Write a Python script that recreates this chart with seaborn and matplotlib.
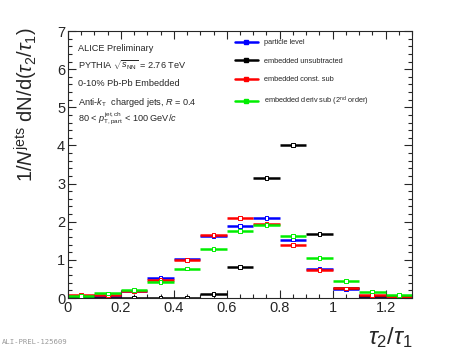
import numpy as np
import pandas as pd
import matplotlib
matplotlib.use("Agg")
import matplotlib.pyplot as plt
from matplotlib.lines import Line2D
from matplotlib.ticker import MultipleLocator
import seaborn as sns

# DATA

bin_centers = [0.05, 0.15, 0.25, 0.35, 0.45, 0.55, 0.65, 0.75, 0.85, 0.95, 1.05, 1.15, 1.25]
bin_half_width = 0.05

particle_level = [0.03, 0.05, 0.18, 0.53, 1.01, 1.62, 1.89, 2.09, 1.53, 0.76, 0.24, 0.06, 0.03]
embedded_unsub = [0.01, 0.0, 0.0, 0.0, 0.0, 0.10, 0.82, 3.15, 4.02, 1.68, 0.25, 0.05, 0.02]
embedded_const = [0.08, 0.08, 0.18, 0.48, 1.00, 1.66, 2.10, 1.95, 1.39, 0.74, 0.25, 0.08, 0.02]
embedded_deriv = [0.06, 0.12, 0.21, 0.42, 0.77, 1.28, 1.75, 1.92, 1.62, 1.05, 0.45, 0.17, 0.08]

series_names = [
    "particle level",
    "embedded unsubtracted",
    "embedded const. sub",
    "embedded deriv sub (2$^{\\rm nd}$ order)",
]
series_values = [particle_level, embedded_unsub, embedded_const, embedded_deriv]
series_colors = ["#0000ff", "#000000", "#ff0000", "#00ee00"]

info_lines = [
    "ALICE Preliminary",
    "PYTHIA $\\sqrt{s_{\\rm NN}}$ = 2.76 TeV",
    "0-10% Pb-Pb Embedded",
    "Anti-$k_{\\rm T}$  charged jets, $R$ = 0.4",
    "80 < $p_{\\rm T,part}^{\\rm jet,ch}$ < 100 GeV/$c$",
]


# STYLE

sns.set_style("ticks")
plt.rcParams["font.family"] = ["Liberation Sans", "DejaVu Sans"]
plt.rcParams["mathtext.fontset"] = "custom"
plt.rcParams["mathtext.rm"] = "Liberation Sans"
plt.rcParams["mathtext.it"] = "Liberation Sans:italic"
plt.rcParams["mathtext.bf"] = "Liberation Sans:bold"


# PLOT

fig = plt.figure(figsize=(4.57, 3.51), dpi=100)
ax = fig.add_axes([68 / 457, 1 - 298 / 351, 344 / 457, 267 / 351])

rows = []
for name, vals, col in zip(series_names, series_values, series_colors):
    ax.errorbar(
        bin_centers,
        vals,
        xerr=bin_half_width,
        fmt="none",
        ecolor=col,
        elinewidth=1.8,
        capsize=0,
    )
    for x, y in zip(bin_centers, vals):
        rows.append({"x": x, "y": y, "series": name})

df = pd.DataFrame(rows)

sns.scatterplot(
    data=df,
    x="x",
    y="y",
    hue="series",
    palette=dict(zip(series_names, series_colors)),
    marker="s",
    s=7,
    linewidth=0.7,
    legend=False,
    ax=ax,
    zorder=5,
)
# open squares: edge coloured, face white
for coll in ax.collections:
    fc = coll.get_facecolors()
    if len(fc):
        coll.set_edgecolors(fc)
        coll.set_facecolors("white")

ax.set_xlim(0, 1.3)
ax.set_ylim(0, 7)

ax.xaxis.set_major_locator(MultipleLocator(0.2))
ax.xaxis.set_minor_locator(MultipleLocator(0.05))
ax.yaxis.set_major_locator(MultipleLocator(1))
ax.yaxis.set_minor_locator(MultipleLocator(0.2))
ax.set_xticks([0, 0.2, 0.4, 0.6, 0.8, 1.0, 1.2])
ax.set_xticklabels(["0", "0.2", "0.4", "0.6", "0.8", "1", "1.2"])

ax.tick_params(which="both", direction="in", top=True, right=True, width=0.8, labelsize=10.5, pad=2)
ax.tick_params(which="major", length=6)
ax.tick_params(which="minor", length=3)
for sp in ax.spines.values():
    sp.set_visible(True)
    sp.set_linewidth(0.8)

ax.set_xlabel("")
ax.set_ylabel(r"1/$N^{\rm jets}$ dN/d($\tau_{2}/\tau_{1}$)", fontsize=14.5)
ax.yaxis.set_label_coords(-0.08, 0.725)
ax.text(1.0, -0.10, r"$\tau_{2}/\tau_{1}$", transform=ax.transAxes,
        ha="right", va="top", fontsize=17)

# info text
y_pos = [0.936, 0.872, 0.805, 0.734, 0.672]
for txt, yy in zip(info_lines, y_pos):
    ax.text(0.03, yy, txt, transform=ax.transAxes, ha="left", va="center", fontsize=6.6)

# legend
handles = [
    Line2D([0], [0], color=c, lw=1.8, marker="s", markersize=2.2,
           markerfacecolor=c, markeredgecolor=c)
    for c in series_colors
]
ax.legend(
    handles,
    series_names,
    loc="upper left",
    bbox_to_anchor=(0.465, 0.995),
    frameon=False,
    fontsize=5.3,
    handlelength=3.2,
    handletextpad=0.8,
    labelspacing=1.55,
)

fig.text(0.004, 0.018, "ALI-PREL-125609", family="DejaVu Sans Mono",
         color="#999999", fontsize=5.2, ha="left", va="bottom")

fig.savefig("out.png", dpi=100)
